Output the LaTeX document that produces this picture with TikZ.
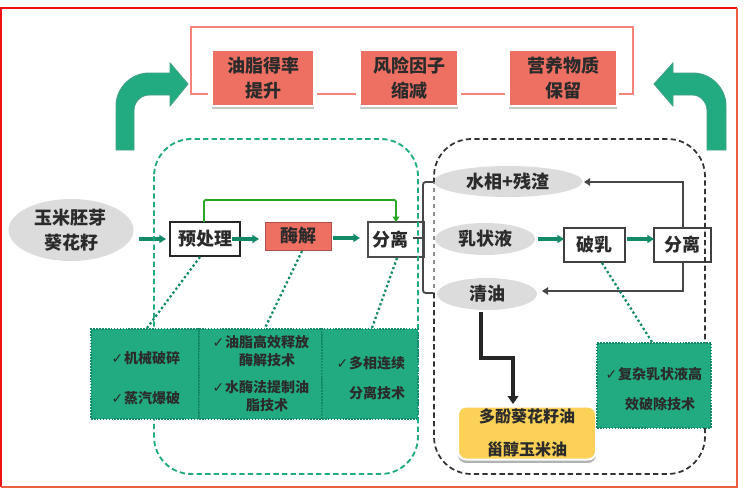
\documentclass[tikz,border=0pt]{standalone}
\usepackage{fontspec}
\setmainfont{Noto Sans CJK SC}
\newfontfamily\symf{DejaVu Sans}
\usetikzlibrary{shapes.geometric,arrows.meta}
\definecolor{frameA}{HTML}{F01010}
\definecolor{frameB}{HTML}{EE5F3E}
\definecolor{pinkline}{HTML}{F4837A}
\definecolor{redbox}{HTML}{EE7062}
\definecolor{teal}{HTML}{22AB80}
\definecolor{tealdk}{HTML}{128A68}
\definecolor{txt}{HTML}{2B2B2B}
\definecolor{ell}{HTML}{DCDCDC}
\definecolor{yel}{HTML}{FBD157}
\newcommand{\ck}{\llap{\symf\bfseries\fontsize{10.5}{10}\selectfont ✓\hspace{0.5pt}}}
\tikzset{
  wh/.style 2 args={minimum width=#1*0.75pt,minimum height=#2*0.75pt,inner sep=0pt,outer sep=0pt},
  big/.style={text=txt,font=\bfseries\fontsize{13.5}{19}\selectfont,align=center},
  small/.style={text=txt,font=\bfseries\fontsize{10.5}{13.5}\selectfont,align=center,inner sep=0pt},
  goalbox/.style={rectangle,fill=redbox,draw=white,line width=1.5pt,big,
     preaction={fill=black!22,draw=none,transform canvas={yshift=-2.6pt}}},
  procbox/.style={rectangle,draw=black!85,fill=white,line width=1.3pt,big},
  enzbox/.style={rectangle,fill=redbox,draw=red!55!black!70,line width=.6pt,big},
  grain/.style={ellipse,fill=ell,big},
  techbox/.style={rectangle,fill=teal,draw=tealdk,densely dotted,line width=1.2pt},
  flow/.style={draw=tealdk,line width=2.6pt,-{Triangle[length=5pt,width=6pt]}},
  thin arrow/.style={draw=black!72,line width=1.7pt,-{Triangle[length=4.5pt,width=5.5pt]}},
  bracket/.style={draw=black!72,line width=1.4pt,rounded corners=2pt},
  goal line/.style={draw=pinkline,line width=1.2pt},
  dotlink/.style={draw=tealdk,line width=1.7pt,dash pattern=on 1.7pt off 1.9pt},
  bigarrow/.style={fill=teal,draw=tealdk!80,line width=.7pt},
  groupg/.style={draw=teal,line width=1.4pt,dash pattern=on 4pt off 2.4pt,rounded corners=28pt},
  groupk/.style={draw=black!80,line width=1.3pt,dash pattern=on 4pt off 2.4pt,rounded corners=28pt},
}
\begin{document}
\begin{tikzpicture}[x=0.75pt,y=-0.75pt]
\useasboundingbox (0,0) rectangle (754,489);
\fill[white] (0,0) rectangle (754,489);
% outer frame
\draw[frameA,line width=1.1pt] (1,487) -- (1,8) -- (737,8);
\draw[frameB,line width=1.3pt] (737,8) -- (737,487) -- (1,487);

% goal row
\node[goalbox,wh={102}{56}] (g1) at (263,78) {油脂得率\\提升};
\node[goalbox,wh={98}{56}]  (g2) at (409,78) {风险因子\\缩减};
\node[goalbox,wh={108}{56}] (g3) at (563,78) {营养物质\\保留};
\coordinate (gl) at (191,94);
\coordinate (gt) at (191,27);
\coordinate (gr) at (633,27);
\coordinate (gb) at (633,94);
\coordinate (g1in) at (208,94);
\coordinate (g1out) at (317,94);
\coordinate (g2in) at (356,94);
\coordinate (g2out) at (461,94);
\coordinate (g3in) at (505,94);
\coordinate (g3out) at (619,94);
\draw[goal line] (g1in) -- (gl) -- (gt) -- (gr) -- (gb) -- (g3out);
\draw[goal line] (g1out) -- (g2in);
\draw[goal line] (g2out) -- (g3in);

% big arrows
\fill[bigarrow,draw=tealdk!80] (116,150) -- (116,106) .. controls (116,88) and (131,73) .. (149,73)
  -- (170,73) -- (170,63) -- (188,84) -- (170,106) -- (170,95) -- (149,95)
  .. controls (141,95) and (134,102) .. (134,110) -- (134,150) -- cycle;
\fill[bigarrow,draw=tealdk!80] (726,150) -- (726,106) .. controls (726,88) and (711,73) .. (693,73)
  -- (673,73) -- (673,63) -- (654,84) -- (673,106) -- (673,95) -- (693,95)
  .. controls (700,95) and (707,102) .. (707,110) -- (707,150) -- cycle;

% process nodes
\node[grain,wh={125}{62}] (seed) at (71,230) {玉米胚芽\\葵花籽};
\node[procbox,wh={70}{34}] (pre) at (205,239) {预处理};
\node[enzbox,wh={66}{28}] (enz) at (298,236) {酶解};
\node[procbox,wh={56}{35},draw=black!70] (sep1) at (396,239.5) {\hspace{-8pt}分离};
\node[grain,wh={149}{31}] (water) at (508,181.5) {水相+残渣};
\node[grain,wh={100}{32}] (emul) at (485,239) {乳状液};
\node[grain,wh={100}{32}] (oil) at (487,294) {清油};
\node[procbox,wh={61}{34},draw=black!75] (brk) at (594.5,245) {破乳};
\node[procbox,wh={57}{34},draw=black!75] (sep2) at (682.5,245) {分离};

% flow arrows
\coordinate (seedR) at (139,239);
\coordinate (preL) at (166,239);
\coordinate (preR) at (232,239);
\coordinate (enzL) at (259,239);
\coordinate (enzR) at (333,238);
\coordinate (sepL) at (360,238);
\draw[flow] (seedR) -- (preL);
\draw[flow] (preR) -- (enzL);
\draw[flow] (enzR) -- (sepL);
\coordinate (emR) at (538,239);
\coordinate (brL) at (564,239);
\coordinate (brR) at (627,239);
\coordinate (spL) at (654,239);
\draw[flow] (emR) -- (brL);
\draw[flow] (brR) -- (spL);
% bypass
\coordinate (by1) at (204,200);
\coordinate (by2) at (396,200);
\draw[draw=green!60!black!85,line width=1.4pt,rounded corners=1pt,-{Triangle[length=4pt,width=5pt]}]
  (204,222) -- (by1) -- (by2) -- (sep1.north);
% separator bracket
\coordinate (bt) at (423,182);
\coordinate (bb) at (423,293);
\coordinate (bm) at (423,238);
\coordinate (btr) at (434,182);
\coordinate (bbr) at (434,293);
\coordinate (bsl) at (413,238);
\draw[bracket] (btr) -- (bt) -- (bb) -- (bbr);
\draw[draw=black!72,line width=1.2pt] (bsl) -- (bm);
% return lines
\coordinate (wr) at (683,182);
\coordinate (or) at (683,291);
\coordinate (wt) at (584,182);
\coordinate (ot) at (542,291);
\draw[thin arrow] (683,228) -- (wr) -- (wt);
\draw[thin arrow] (683,262) -- (or) -- (ot);

% dashed groups
\draw[groupg] (154,139) rectangle (418,474);
\draw[draw=black!45,line width=.8pt,dashed] (434,180) -- (434,293);
\draw[groupk] (434,293) -- (434,474) -- (705,474) -- (705,139) -- (434,139) -- (434,182);

% product
\node[rectangle,rounded corners=6pt,fill=yel,draw=white,line width=1.5pt,wh={138}{53},
  preaction={fill=black!30,draw=none,transform canvas={yshift=-2.6pt}},
  text=txt,font=\bfseries\fontsize{12}{24.5}\selectfont,align=center] (prod) at (527,433) {多酚葵花籽油\\甾醇玉米油};
\coordinate (pd1) at (481,358);
\coordinate (pd2) at (513,358);
\draw[draw=black!85,line width=2.7pt,-{Triangle[length=6pt,width=8pt]}] (481,312) -- (pd1) -- (pd2) -- (513,404);

% tech boxes
\node[techbox,wh={108}{90}] (ta) at (145,374) {};
\node[techbox,wh={123}{90}] (tb) at (260.5,374) {};
\node[techbox,wh={96}{90}] (tc) at (370,374) {};
\node[techbox,wh={114}{85}] (td) at (654,385.5) {};
\node[small] (tat) at (152,378) {\ck 机械破碎\\[16.5pt]\ck 蒸汽爆破};
\node[small] (tbt) at (267,373.5) {\ck 油脂高效释放\\酶解技术\\[6.5pt]\ck 水酶法提制油\\脂技术};
\node[small] (tct) at (377,378) {\ck 多相连续\\[9pt]分离技术};
\node[small] (tdt) at (660,389) {\ck 复杂乳状液高\\[9pt]效破除技术};

% dotted links
\coordinate (d1) at (200,257);
\coordinate (d2) at (302,251);
\coordinate (d3) at (397,258);
\coordinate (d4) at (602,263);
\coordinate (e1) at (147,328);
\coordinate (e2) at (265,328);
\coordinate (e3) at (372,328);
\coordinate (e4) at (652,342);
\draw[dotlink] (d1) -- (e1);
\draw[dotlink] (d2) -- (e2);
\draw[dotlink] (d3) -- (e3);
\draw[dotlink] (d4) -- (e4);
\end{tikzpicture}
\end{document}
